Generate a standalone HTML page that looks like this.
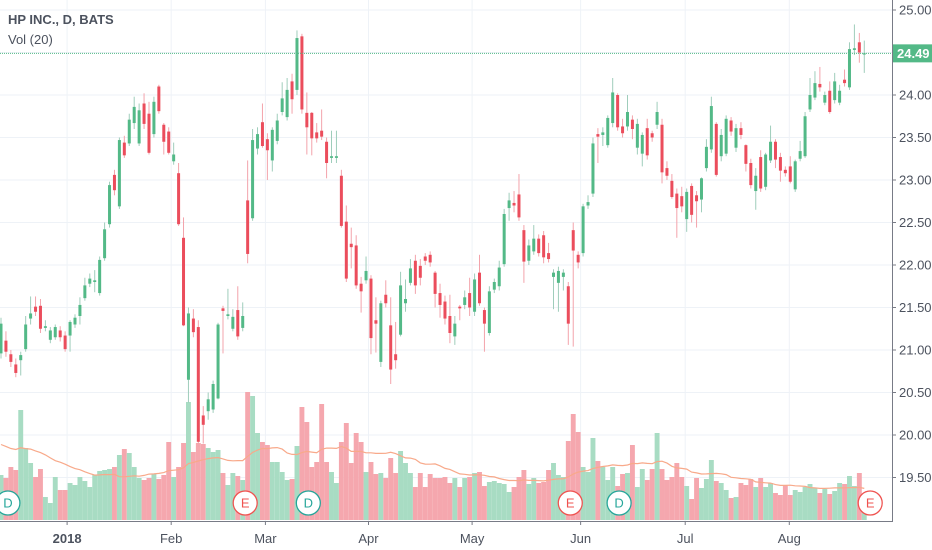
<!DOCTYPE html>
<html><head><meta charset="utf-8"><style>
html,body{margin:0;padding:0;background:#fff;}
svg{display:block;font-family:"Liberation Sans",sans-serif;}
</style></head><body>
<svg id="chart" width="932" height="550" viewBox="0 0 932 550">
  <rect x="0" y="0" width="932" height="550" fill="#fff"/>
  <g id="grid"></g>
  <g id="vol"></g>
  <path id="ma" fill="none" stroke="#f8a98a" stroke-width="1.2"/>
  <g id="candles"></g>
  <line x1="0" x2="892" y1="53.4" y2="53.4" stroke="#53b987" stroke-width="1" stroke-dasharray="1,1" id="lastline"/>
  <g id="markers"></g>
  <g id="axes"></g>
  <text x="8" y="24" font-size="13" font-weight="bold" fill="#4c525e">HP INC., D, BATS</text>
  <text x="8" y="44" font-size="13" fill="#4c525e">Vol (20)</text>
</svg>
<script>
const opens=[20.96,21.11,20.95,20.83,20.88,21.01,21.37,21.51,21.52,21.26,21.12,21.15,21.23,21.17,21.17,21.30,21.40,21.61,21.78,21.80,21.67,22.08,22.48,23.06,22.69,23.44,23.43,23.67,23.43,23.90,23.78,23.54,24.10,23.65,23.57,23.22,23.08,22.32,20.65,21.37,21.27,20.23,20.28,20.30,20.43,21.49,21.40,21.25,21.47,21.26,22.76,22.55,23.37,23.68,23.48,23.23,23.46,23.80,23.74,24.16,24.06,24.69,23.79,23.79,23.56,23.58,23.45,23.26,23.26,23.05,22.51,22.25,22.23,21.78,21.82,21.84,21.35,20.86,21.65,21.29,20.95,21.18,21.55,21.79,22.05,21.99,22.10,22.12,21.91,21.67,21.57,21.40,21.16,21.51,21.53,21.67,21.45,21.91,21.47,21.20,21.71,21.75,22.01,22.67,22.73,22.83,22.41,22.05,22.16,22.31,22.35,22.14,21.86,21.79,21.86,21.75,22.41,22.12,22.14,22.70,22.84,23.54,23.53,23.41,23.67,24.00,23.63,23.63,23.71,23.38,23.31,23.61,23.55,23.65,23.65,23.14,22.99,22.84,22.81,22.54,22.93,22.82,22.77,23.14,23.36,23.66,23.28,23.31,23.70,23.38,23.61,23.41,23.20,22.87,23.27,22.92,23.23,23.45,23.27,23.12,23.16,22.89,23.25,23.28,23.83,23.97,24.13,23.91,24.05,23.94,23.91,24.18,24.09,24.53,24.62,24.48];
const closes=[21.31,20.98,20.86,20.73,20.94,21.30,21.43,21.45,21.25,21.28,21.23,21.27,21.15,21.01,21.33,21.38,21.53,21.76,21.84,21.82,22.06,22.42,22.94,22.88,23.47,23.29,23.71,23.86,23.82,23.66,23.32,23.92,23.81,23.45,23.32,23.30,22.48,21.29,21.43,21.21,19.92,20.12,20.42,20.60,21.30,21.46,21.42,21.39,21.16,21.40,22.13,23.47,23.54,23.40,23.35,23.59,23.70,23.96,24.06,23.95,24.67,23.83,23.62,23.49,23.49,23.51,23.20,23.28,23.28,22.46,21.84,22.21,21.76,21.69,21.93,21.14,21.31,21.55,21.55,20.77,20.88,21.76,21.60,21.96,21.76,21.85,22.05,22.03,21.66,21.53,21.37,21.20,21.31,21.49,21.62,21.50,21.83,21.55,21.31,21.69,21.80,21.97,22.60,22.76,22.70,22.56,22.04,22.23,22.31,22.14,22.09,22.07,21.91,21.93,21.91,21.31,22.17,22.03,22.69,22.74,23.43,23.51,23.56,23.73,24.03,23.62,23.55,23.80,23.60,23.66,23.53,23.29,23.50,23.80,23.09,23.05,22.80,22.67,22.69,22.86,22.59,22.75,23.02,23.39,23.87,23.06,23.53,23.72,23.57,23.61,23.53,23.19,22.94,23.05,22.90,23.30,23.45,23.24,23.11,23.08,22.98,23.22,23.34,23.75,24.00,24.14,24.09,24.00,23.80,24.16,24.05,24.14,24.54,24.55,24.50,24.49];
const highs=[21.38,21.22,21.00,20.90,20.98,21.40,21.63,21.63,21.60,21.35,21.27,21.30,21.28,21.22,21.35,21.42,21.62,21.85,21.90,21.94,22.10,22.50,22.98,23.12,23.50,23.52,23.78,23.98,23.90,24.02,23.92,23.98,24.12,23.67,23.62,23.44,23.20,22.56,21.50,21.48,21.35,20.34,20.50,20.64,21.32,21.52,21.72,21.48,21.75,21.56,23.23,23.60,23.62,23.90,23.55,23.62,23.78,24.15,24.20,24.25,24.76,24.72,24.03,23.80,23.67,23.83,23.50,23.58,23.58,23.12,22.70,22.44,22.35,21.86,22.10,21.88,21.62,21.58,21.82,21.62,21.33,21.92,21.83,22.07,22.12,22.07,22.14,22.16,21.93,21.78,21.64,21.65,21.40,21.53,21.70,21.85,21.90,22.12,21.50,21.75,21.84,22.05,22.66,22.85,22.87,23.07,22.47,22.30,22.47,22.36,22.40,22.26,21.95,21.98,21.95,21.80,22.50,22.16,22.72,22.82,23.50,23.61,23.62,23.76,24.20,24.02,23.72,24.00,23.76,23.72,23.56,23.72,23.58,23.92,23.72,23.22,23.07,22.90,22.92,22.90,22.96,22.87,23.03,23.48,23.98,23.68,23.60,23.76,23.74,23.66,23.68,23.42,23.25,23.14,23.35,23.32,23.64,23.48,23.32,23.16,23.28,23.24,23.46,23.80,24.20,24.28,24.33,24.04,24.16,24.26,24.12,24.30,24.62,24.83,24.73,24.64];
const lows=[20.90,20.92,20.80,20.68,20.70,20.98,21.30,21.40,21.20,21.22,21.08,21.12,21.10,20.98,20.98,21.26,21.30,21.58,21.74,21.68,21.64,22.05,22.44,22.82,22.66,23.26,23.40,23.60,23.40,23.60,23.30,23.50,23.78,23.30,23.30,23.18,22.46,21.28,20.38,21.15,19.86,19.90,20.18,20.26,20.42,20.96,21.36,21.22,21.12,21.22,22.02,22.52,23.30,23.38,23.00,23.10,23.42,23.76,23.70,23.78,24.00,23.78,23.30,23.29,23.44,23.47,23.02,23.20,23.20,22.44,21.80,21.96,21.72,21.44,21.78,20.95,20.97,20.80,21.50,20.60,20.78,21.16,21.45,21.76,21.66,21.76,22.00,21.98,21.50,21.38,21.30,21.08,21.06,21.35,21.48,21.40,21.40,21.52,20.98,21.17,21.67,21.70,21.98,22.52,22.62,22.52,21.79,22.00,22.12,22.10,22.02,22.03,21.48,21.45,21.70,21.06,21.04,21.96,22.10,22.66,22.80,23.20,23.40,23.38,23.62,23.58,23.50,23.58,23.48,23.30,23.16,23.24,23.45,23.60,22.96,23.00,22.78,22.32,22.62,22.39,22.50,22.44,22.62,23.10,23.32,23.04,23.22,23.28,23.52,23.33,23.48,23.10,22.90,22.65,22.86,22.88,23.20,23.14,22.98,23.04,22.96,22.86,23.22,23.26,23.80,23.94,24.04,23.88,23.78,23.90,23.88,24.10,24.06,24.47,24.38,24.26];
const volumes=[45,42,53,50,110,72,57,43,51,23,17,43,30,30,37,35,43,39,33,45,49,50,51,53,65,71,67,53,42,40,42,46,41,45,78,43,53,77,118,68,77,76,72,68,70,47,35,47,44,40,128,124,87,78,75,58,58,48,40,41,74,113,98,53,58,116,58,48,37,78,97,57,87,78,48,58,46,47,42,62,47,69,57,47,33,47,33,46,42,42,43,37,42,33,42,43,47,48,34,38,39,37,36,28,33,43,50,36,42,37,38,50,57,45,43,79,106,88,53,48,82,59,53,40,53,34,46,47,75,33,51,40,51,87,51,40,43,57,43,34,21,42,32,41,60,39,37,30,22,23,37,35,41,33,42,33,37,27,25,35,25,30,28,33,36,32,27,31,26,29,37,36,44,34,47,13];
const priorVolumes=[80,95,70,75,90,65,80,85,70,75,100,60,70,85,75,65,80,70,75];
const priceTicks=["19.50","20.00","20.50","21.00","21.50","22.00","22.50","23.00","23.50","24.00","24.50","25.00"];
const monthLabels=["2018","Feb","Mar","Apr","May","Jun","Jul","Aug"];
const monthIndex=[13.4,34.5,53.6,74.5,95.5,117.5,138.7,159.8];
const eventLabels=["D","E","D","E","D","E"];
const eventIndex=[1.4,49.5,62.3,115.4,125.3,176.2];
const lastPrice=24.49;

const NS="http://www.w3.org/2000/svg";
function xAt(i){return 1+4.933*i;}
function yP(p){return 95+(24-p)*85;}
function yV(v){return 520-v;}
function mk(tag,attrs,parent){const e=document.createElementNS(NS,tag);for(const k in attrs)e.setAttribute(k,attrs[k]);parent.appendChild(e);return e;}
const G="#53b987",R="#eb4d5c";

const grid=document.getElementById('grid');
priceTicks.forEach(t=>{const y=yP(parseFloat(t));
  const l=mk('line',{x1:0,x2:892,y1:y,y2:y,stroke:'#eef2f7','stroke-width':1},grid);
  
  });
monthIndex.forEach(mi=>{const x=xAt(mi);
  const l=mk('line',{x1:x,x2:x,y1:0,y2:521,stroke:'#eef2f7','stroke-width':1},grid);
  
  });

const vol=document.getElementById('vol');
volumes.forEach((v,i)=>{const up=closes[i]>=opens[i];
  const r=mk('rect',{x:xAt(i)-2.45,y:yV(v),width:4.9,height:520-yV(v),fill:up?'#a8dcc3':'#f5a7ae'},vol);
  
  });
const allV=priorVolumes.concat(volumes),off=priorVolumes.length;
let d='';
volumes.forEach((v,i)=>{const j=i+off;const s=allV.slice(Math.max(0,j-19),j+1);const a=s.reduce((p,c)=>p+c,0)/s.length;
  d+=(i?'L':'M')+xAt(i).toFixed(1)+','+yV(a).toFixed(1);});
document.getElementById('ma').setAttribute('d',d);

const cg=document.getElementById('candles');
opens.forEach((o,i)=>{const c=closes[i],up=c>=o,col=up?G:R,x=xAt(i);
  const g=mk('g',{},cg);
  
  
  mk('line',{x1:x,x2:x,y1:yP(highs[i]),y2:yP(lows[i]),stroke:up?'#9fcdbb':'#f3a3ab','stroke-width':1},g);
  const t=yP(Math.max(o,c)),b=yP(Math.min(o,c));
  mk('rect',{x:x-1.5,y:t,width:3,height:Math.max(1.2,b-t),fill:col},g);});

document.getElementById('lastline').setAttribute('y1',yP(lastPrice));
document.getElementById('lastline').setAttribute('y2',yP(lastPrice));

const mg=document.getElementById('markers');
eventLabels.forEach((e,i)=>{const x=xAt(eventIndex[i]),col=e==='E'?'#ef5350':'#26a69a';
  const g=mk('g',{},mg);
  
  
  mk('circle',{cx:x,cy:503,r:12,fill:'#fff',stroke:col,'stroke-width':1.3},g);
  const t=mk('text',{x:x,y:507.5,'text-anchor':'middle','font-size':13,fill:col},g);t.textContent=e;});

const ax=document.getElementById('axes');
mk('rect',{x:893,y:0,width:39,height:550,fill:'#fff'},ax);
mk('rect',{x:0,y:521,width:932,height:29,fill:'#fff'},ax);
let a1=mk('line',{x1:892.5,x2:892.5,y1:0,y2:522,stroke:'#787b86','stroke-width':1},ax);


let a2=mk('line',{x1:0,x2:893,y1:521.5,y2:521.5,stroke:'#787b86','stroke-width':1},ax);


priceTicks.forEach(t=>{const y=yP(parseFloat(t));
  mk('line',{x1:892,x2:896,y1:y,y2:y,stroke:'#787b86'},ax);
  const tx=mk('text',{x:899,y:y+4.5,'font-size':13,fill:'#4c525e'},ax);
  
  
  tx.textContent=t;});
monthLabels.forEach((m,i)=>{const x=xAt(monthIndex[i]);
  mk('line',{x1:x,x2:x,y1:521,y2:525,stroke:'#787b86'},ax);
  const tx=mk('text',{x:x,y:543,'text-anchor':'middle','font-size':13,fill:'#4c525e','font-weight':m==='2018'?'bold':'normal'},ax);
  
  
  tx.textContent=m;});
const ly=yP(lastPrice);
const lb=mk('rect',{x:893,y:ly-9,width:39,height:18,fill:G},ax);


const lt=mk('text',{x:897,y:ly+4.5,'font-size':13,'font-weight':'bold',fill:'#fff'},ax);


lt.textContent=lastPrice.toFixed(2);
</script>
</body></html>
